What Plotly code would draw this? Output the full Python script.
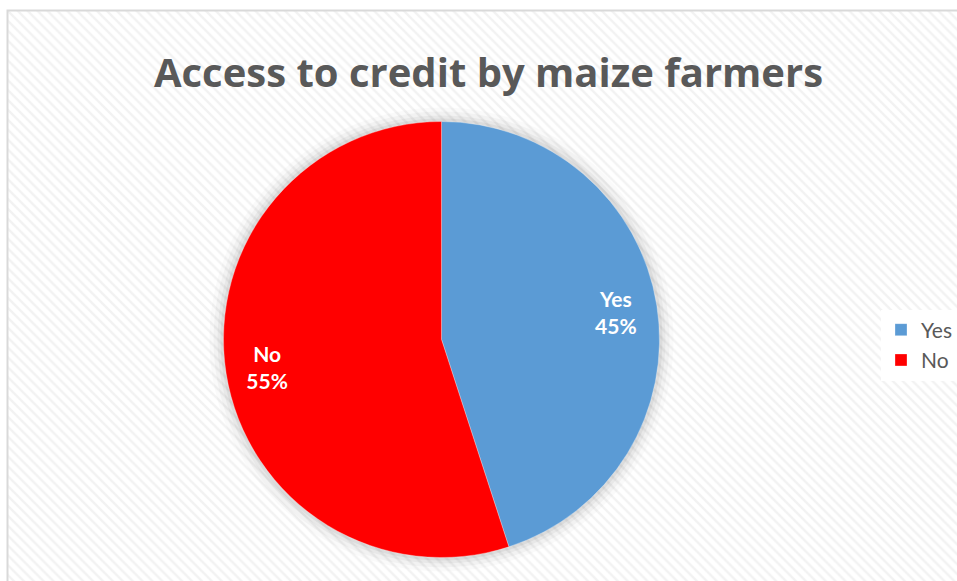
import plotly.graph_objects as go

labels = ["Yes", "No"]
values = [45, 55]
colors = ["#5B9BD5", "#FF0000"]
title_text = "Access to credit by maize farmers"

W, H = 957, 581
CX, CY, R = 441.5, 339.5, 218.0  # pie centre / radius in pixels


def dom(r):
    return dict(x=[(CX - r) / W, (CX + r) / W], y=[(H - CY - r) / H, (H - CY + r) / H])


fig = go.Figure()

# hatched chart-area background
fig.add_trace(go.Bar(
    x=[0.5], y=[1], width=[1],
    marker=dict(color="white", line=dict(width=0),
                pattern=dict(shape="\\", fgcolor="#e6e6e6", bgcolor="white", size=7, solidity=0.35)),
    hoverinfo="skip", showlegend=False, xaxis="x", yaxis="y",
))

# soft shadow around the pie
for dr, a in [(14, 0.02), (10, 0.03), (6, 0.04), (3, 0.05)]:
    fig.add_trace(go.Pie(
        values=[1], labels=["shadow"], sort=False, showlegend=False,
        marker=dict(colors=[f"rgba(0,0,0,{a})"], line=dict(width=0)),
        textinfo="none", hoverinfo="skip", domain=dom(R + dr),
    ))

# main pie
fig.add_trace(go.Pie(
    labels=labels, values=values, sort=False, direction="clockwise", rotation=0,
    marker=dict(colors=colors, line=dict(color="rgba(255,255,255,0.6)", width=0.5)),
    textinfo="none", domain=dom(R), hoverinfo="label+percent",
))

# data labels (transparent overlay with a hole so labels sit near the rim, like Excel's best-fit)
fig.add_trace(go.Pie(
    labels=labels, values=values, sort=False, direction="clockwise", rotation=0, hole=0.62,
    marker=dict(colors=["rgba(0,0,0,0)"] * 2, line=dict(width=0)),
    texttemplate="<b>%{label}<br>%{percent:.0%}</b>",
    textposition="inside", insidetextorientation="horizontal",
    textfont=dict(family="Lato, Open Sans, sans-serif", size=21, color="white"),
    domain=dom(R), hoverinfo="skip", showlegend=False,
))

fig.update_layout(
    width=W, height=H,
    margin=dict(l=0, r=0, t=0, b=0),
    paper_bgcolor="white", plot_bgcolor="white",
    xaxis=dict(domain=[8 / W, 1], range=[0, 1], visible=False, fixedrange=True),
    yaxis=dict(domain=[0, 1 - 11 / H], range=[0, 1], visible=False, fixedrange=True),
    bargap=0,
    title=dict(text="<b>" + title_text + "</b>", x=488.5 / W, xanchor="center", y=1 - 73 / H, yanchor="middle",
               font=dict(family="Open Sans, sans-serif", size=40, color="#595959")),
    legend=dict(x=881 / W, y=1 - 345 / H, xanchor="left", yanchor="middle",
                bgcolor="white", font=dict(family="Lato, Open Sans, sans-serif", size=21, color="#595959")),
    shapes=[dict(type="rect", xref="paper", yref="paper", x0=7.5 / W, x1=1.01, y0=-0.01, y1=1 - 10.5 / H,
                 line=dict(color="#d9d9d9", width=2), fillcolor="rgba(0,0,0,0)", layer="above")],
)

fig.write_html("out.html")
